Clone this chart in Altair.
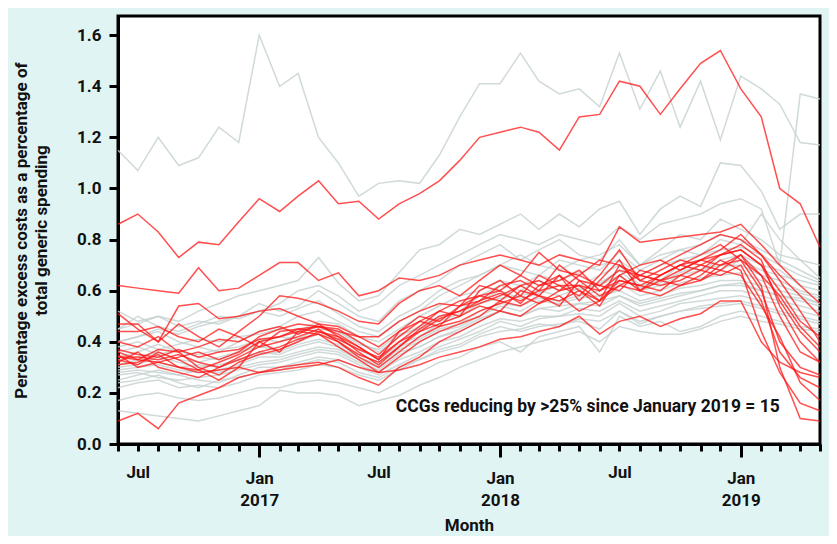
import altair as alt
import pandas as pd

MONTHS = [d.strftime("%Y-%m-01T00:00:00") for d in pd.date_range("2016-06-01", periods=36, freq="MS")]

GREY = {
    "G1": [1.15,1.07,1.20,1.09,1.12,1.24,1.18,1.60,1.40,1.45,1.20,1.10,0.97,1.02,1.03,1.02,1.13,1.28,1.41,1.41,1.53,1.42,1.37,1.39,1.32,1.53,1.31,1.46,1.24,1.42,1.19,1.44,1.39,1.33,1.18,1.17],
    "G2": [0.40,0.42,0.45,0.43,0.46,0.48,0.50,0.52,0.55,0.60,0.62,0.58,0.52,0.55,0.62,0.66,0.70,0.74,0.78,0.82,0.80,0.78,0.82,0.80,0.78,0.85,0.80,0.86,0.88,0.90,0.94,0.96,0.92,0.70,1.37,1.35],
    "G3": [0.45,0.47,0.50,0.48,0.52,0.55,0.58,0.60,0.62,0.64,0.73,0.63,0.56,0.58,0.67,0.76,0.78,0.84,0.82,0.86,0.90,0.84,0.90,0.85,0.92,0.95,0.82,0.92,0.97,0.93,1.10,1.09,0.99,0.84,0.90,0.90],
    "G4": [0.52,0.48,0.50,0.46,0.48,0.47,0.50,0.55,0.52,0.54,0.60,0.55,0.50,0.48,0.56,0.60,0.64,0.70,0.74,0.78,0.72,0.76,0.80,0.74,0.72,0.80,0.70,0.76,0.82,0.80,0.88,0.84,0.80,0.74,0.72,0.65],
    "G5": [0.40,0.42,0.44,0.40,0.38,0.36,0.40,0.44,0.46,0.50,0.52,0.48,0.44,0.42,0.48,0.52,0.58,0.62,0.66,0.70,0.68,0.66,0.72,0.70,0.68,0.75,0.68,0.72,0.76,0.74,0.80,0.78,0.90,0.80,0.72,0.70],
    "G6": [0.36,0.38,0.35,0.37,0.34,0.33,0.36,0.40,0.42,0.41,0.45,0.44,0.40,0.36,0.42,0.46,0.50,0.52,0.58,0.62,0.60,0.64,0.60,0.62,0.66,0.70,0.62,0.64,0.70,0.68,0.72,0.74,0.70,0.68,0.62,0.60],
    "G7": [0.33,0.34,0.36,0.33,0.32,0.34,0.36,0.38,0.37,0.40,0.43,0.41,0.37,0.33,0.39,0.42,0.47,0.50,0.55,0.57,0.58,0.60,0.58,0.61,0.62,0.66,0.60,0.62,0.66,0.68,0.70,0.70,0.66,0.64,0.60,0.58],
    "G8": [0.31,0.33,0.32,0.30,0.31,0.30,0.33,0.36,0.35,0.38,0.40,0.38,0.34,0.31,0.37,0.40,0.44,0.46,0.50,0.54,0.52,0.56,0.55,0.57,0.58,0.60,0.56,0.58,0.61,0.62,0.64,0.64,0.62,0.60,0.58,0.55],
    "G9": [0.29,0.30,0.31,0.29,0.28,0.29,0.31,0.34,0.34,0.36,0.38,0.37,0.33,0.30,0.36,0.38,0.42,0.44,0.48,0.52,0.50,0.53,0.52,0.55,0.56,0.58,0.54,0.56,0.58,0.60,0.62,0.62,0.60,0.58,0.56,0.54],
    "G10": [0.27,0.28,0.26,0.25,0.26,0.27,0.29,0.31,0.32,0.34,0.36,0.35,0.31,0.28,0.33,0.36,0.40,0.42,0.46,0.49,0.48,0.50,0.50,0.53,0.52,0.56,0.52,0.54,0.56,0.58,0.60,0.60,0.58,0.56,0.54,0.52],
    "G11": [0.25,0.27,0.29,0.27,0.25,0.24,0.27,0.30,0.30,0.32,0.34,0.33,0.30,0.27,0.31,0.35,0.38,0.41,0.44,0.48,0.46,0.49,0.50,0.51,0.50,0.55,0.50,0.52,0.55,0.56,0.57,0.58,0.56,0.55,0.52,0.50],
    "G12": [0.22,0.24,0.25,0.22,0.23,0.22,0.24,0.27,0.28,0.29,0.31,0.30,0.27,0.25,0.29,0.33,0.36,0.38,0.42,0.44,0.45,0.47,0.46,0.49,0.48,0.52,0.48,0.50,0.52,0.54,0.55,0.56,0.54,0.52,0.50,0.48],
    "G13": [0.17,0.19,0.20,0.18,0.17,0.18,0.20,0.22,0.22,0.24,0.25,0.24,0.22,0.20,0.24,0.28,0.32,0.34,0.38,0.40,0.36,0.42,0.44,0.46,0.36,0.50,0.46,0.48,0.44,0.46,0.50,0.52,0.50,0.48,0.46,0.45],
    "G14": [0.13,0.12,0.11,0.10,0.09,0.11,0.13,0.15,0.21,0.20,0.20,0.19,0.15,0.17,0.19,0.23,0.26,0.30,0.33,0.36,0.38,0.40,0.42,0.44,0.40,0.46,0.44,0.43,0.43,0.45,0.48,0.50,0.48,0.47,0.45,0.44],
    "G15": [0.38,0.40,0.37,0.39,0.41,0.40,0.42,0.43,0.45,0.44,0.48,0.47,0.42,0.40,0.45,0.50,0.54,0.58,0.60,0.64,0.62,0.66,0.64,0.67,0.70,0.72,0.66,0.70,0.72,0.74,0.76,0.77,0.74,0.70,0.66,0.63],
    "G16": [0.34,0.36,0.39,0.36,0.35,0.37,0.38,0.41,0.40,0.43,0.46,0.44,0.39,0.37,0.43,0.45,0.48,0.51,0.56,0.60,0.57,0.59,0.62,0.60,0.63,0.68,0.61,0.63,0.67,0.70,0.68,0.72,0.68,0.66,0.64,0.62],
    "G17": [0.30,0.31,0.34,0.32,0.30,0.31,0.33,0.35,0.36,0.39,0.41,0.39,0.35,0.32,0.38,0.41,0.45,0.47,0.52,0.55,0.54,0.57,0.56,0.58,0.60,0.63,0.58,0.60,0.63,0.65,0.66,0.67,0.64,0.62,0.59,0.57],
    "G18": [0.28,0.29,0.28,0.27,0.29,0.28,0.30,0.32,0.33,0.35,0.37,0.36,0.32,0.29,0.35,0.38,0.42,0.45,0.49,0.52,0.50,0.53,0.54,0.55,0.54,0.58,0.55,0.57,0.59,0.60,0.62,0.63,0.60,0.58,0.57,0.55],
    "G19": [0.45,0.50,0.46,0.44,0.47,0.50,0.49,0.52,0.50,0.53,0.56,0.51,0.46,0.44,0.50,0.54,0.60,0.64,0.66,0.70,0.74,0.70,0.68,0.72,0.74,0.78,0.70,0.74,0.76,0.78,0.82,0.80,0.76,0.72,0.68,0.64],
    "G20": [0.24,0.25,0.27,0.24,0.22,0.25,0.26,0.28,0.29,0.31,0.33,0.32,0.28,0.26,0.30,0.33,0.37,0.39,0.43,0.46,0.44,0.46,0.47,0.48,0.45,0.52,0.47,0.50,0.52,0.53,0.54,0.55,0.53,0.51,0.49,0.47],
}

RED = {
    "R1": [0.86,0.90,0.83,0.73,0.79,0.78,0.87,0.96,0.91,0.97,1.03,0.94,0.95,0.88,0.94,0.98,1.03,1.11,1.20,1.22,1.24,1.22,1.15,1.28,1.29,1.42,1.40,1.29,1.39,1.49,1.54,1.39,1.28,1.00,0.94,0.77],
    "R2": [0.62,0.61,0.60,0.59,0.69,0.60,0.61,0.66,0.71,0.71,0.64,0.67,0.58,0.60,0.65,0.64,0.66,0.70,0.72,0.74,0.72,0.70,0.74,0.72,0.70,0.85,0.79,0.80,0.81,0.82,0.83,0.86,0.78,0.70,0.62,0.55],
    "R3": [0.51,0.45,0.40,0.47,0.42,0.38,0.44,0.50,0.58,0.57,0.55,0.52,0.48,0.47,0.55,0.60,0.62,0.58,0.64,0.70,0.66,0.75,0.68,0.66,0.72,0.70,0.66,0.70,0.74,0.78,0.82,0.80,0.74,0.66,0.58,0.50],
    "R4": [0.47,0.47,0.40,0.54,0.55,0.49,0.50,0.52,0.53,0.50,0.47,0.42,0.38,0.33,0.44,0.48,0.52,0.56,0.58,0.60,0.55,0.62,0.66,0.56,0.64,0.72,0.60,0.66,0.70,0.68,0.74,0.76,0.70,0.60,0.48,0.42],
    "R5": [0.44,0.44,0.46,0.42,0.40,0.45,0.42,0.38,0.44,0.45,0.46,0.44,0.42,0.42,0.48,0.52,0.55,0.54,0.56,0.62,0.64,0.60,0.70,0.64,0.62,0.68,0.66,0.64,0.68,0.72,0.70,0.74,0.66,0.50,0.36,0.32],
    "R6": [0.36,0.33,0.37,0.36,0.30,0.27,0.32,0.35,0.37,0.40,0.44,0.42,0.36,0.31,0.38,0.45,0.50,0.52,0.55,0.58,0.62,0.58,0.66,0.60,0.56,0.64,0.62,0.60,0.66,0.64,0.70,0.72,0.60,0.40,0.30,0.27],
    "R7": [0.34,0.34,0.33,0.35,0.32,0.30,0.34,0.38,0.40,0.42,0.45,0.40,0.34,0.30,0.36,0.42,0.46,0.48,0.52,0.55,0.58,0.55,0.60,0.62,0.56,0.70,0.64,0.62,0.64,0.68,0.66,0.70,0.56,0.36,0.26,0.22],
    "R8": [0.32,0.36,0.30,0.28,0.26,0.30,0.33,0.36,0.38,0.41,0.43,0.38,0.33,0.28,0.34,0.40,0.44,0.47,0.50,0.56,0.54,0.58,0.56,0.60,0.54,0.66,0.60,0.64,0.62,0.66,0.72,0.68,0.44,0.28,0.16,0.13],
    "R9": [0.31,0.32,0.35,0.30,0.29,0.32,0.35,0.40,0.42,0.44,0.43,0.40,0.35,0.32,0.38,0.44,0.47,0.50,0.54,0.52,0.60,0.58,0.54,0.64,0.58,0.62,0.66,0.64,0.66,0.70,0.68,0.74,0.62,0.30,0.10,0.09],
    "R10": [0.09,0.12,0.06,0.16,0.19,0.22,0.26,0.28,0.30,0.31,0.32,0.30,0.26,0.23,0.30,0.34,0.40,0.44,0.48,0.52,0.50,0.55,0.58,0.52,0.56,0.62,0.60,0.58,0.62,0.64,0.68,0.66,0.54,0.42,0.24,0.17],
    "R11": [0.34,0.33,0.32,0.30,0.28,0.29,0.30,0.28,0.29,0.30,0.31,0.33,0.30,0.28,0.29,0.31,0.34,0.36,0.38,0.41,0.42,0.44,0.46,0.50,0.43,0.48,0.50,0.46,0.49,0.51,0.56,0.56,0.40,0.32,0.28,0.26],
    "R12": [0.33,0.31,0.36,0.33,0.29,0.25,0.30,0.40,0.36,0.44,0.46,0.45,0.40,0.35,0.42,0.48,0.46,0.54,0.58,0.56,0.62,0.64,0.60,0.66,0.62,0.60,0.68,0.66,0.70,0.74,0.78,0.72,0.66,0.58,0.46,0.38],
    "R13": [0.35,0.30,0.32,0.34,0.36,0.33,0.36,0.42,0.45,0.47,0.46,0.43,0.38,0.33,0.40,0.46,0.52,0.50,0.60,0.64,0.58,0.66,0.62,0.58,0.66,0.76,0.64,0.68,0.72,0.70,0.74,0.78,0.72,0.54,0.40,0.32],
    "R14": [0.40,0.38,0.42,0.36,0.38,0.41,0.40,0.44,0.46,0.43,0.47,0.46,0.42,0.38,0.44,0.50,0.48,0.54,0.62,0.60,0.66,0.62,0.64,0.68,0.60,0.66,0.70,0.72,0.68,0.72,0.76,0.82,0.74,0.64,0.52,0.40],
    "R15": [0.37,0.35,0.34,0.37,0.34,0.36,0.37,0.41,0.42,0.45,0.44,0.41,0.37,0.34,0.40,0.44,0.49,0.52,0.56,0.59,0.56,0.60,0.62,0.62,0.60,0.64,0.62,0.66,0.70,0.72,0.74,0.76,0.70,0.56,0.44,0.36],
}

Y_TICKS = [0.0, 0.2, 0.4, 0.6, 0.8, 1.0, 1.2, 1.4, 1.6]
ANNOTATION = "CCGs reducing by >25% since January 2019 = 15"

FONT = "Roboto"

def long(d, kind):
    rows = []
    for name, vals in d.items():
        for m, v in zip(MONTHS, vals):
            rows.append({"ccg": name, "month": m, "value": v, "kind": kind})
    return rows

grey_df = pd.DataFrame(long(GREY, "grey"))
red_df = pd.DataFrame(long(RED, "red"))

x_scale = alt.Scale(domain=[alt.DateTime(year=2016, month=6, date=1),
                            alt.DateTime(year=2019, month=5, date=1)], nice=False)
y_scale = alt.Scale(domain=[0, 1.675], nice=False, zero=True)

x_axis = alt.Axis(
    title="Month",
    tickCount={"interval": "month", "step": 1},
    labelExpr="month(datum.value) == 0 ? [timeFormat(datum.value, '%b'), timeFormat(datum.value, '%Y')] : (month(datum.value) == 6 ? 'Jul' : '')",
    labelOverlap=False,
    labelFlush=False,
    labelLineHeight=22,
    labelBaseline="top",
    tickSize={"condition": {"test": "month(datum.value) == 0", "value": 13}, "value": 7},
    labelPadding=13,
    titlePadding=9,
)
y_axis = alt.Axis(
    title=["Percentage excess costs as a percentage of", "total generic spending"],
    values=Y_TICKS,
    format=".1f",
    tickSize=9,
    labelPadding=8,
    titlePadding=26,
    titleLineHeight=20,
)

grey = alt.Chart(grey_df).mark_line(strokeWidth=1.5, color="#c4d1cf", opacity=0.8).encode(
    x=alt.X("month:T", scale=x_scale, axis=x_axis),
    y=alt.Y("value:Q", scale=y_scale, axis=y_axis),
    detail="ccg:N",
)
red = alt.Chart(red_df).mark_line(strokeWidth=1.5, color="#ff1414", opacity=0.75).encode(
    x=alt.X("month:T", scale=x_scale),
    y=alt.Y("value:Q", scale=y_scale),
    detail="ccg:N",
)
note_df = pd.DataFrame({"month": ["2019-03-01T00:00:00"], "value": [0.145], "label": [ANNOTATION]})
note = alt.Chart(note_df).mark_text(align="right", baseline="middle", font=FONT, fontSize=17.5,
                                    fontWeight="bold", color="#111111").encode(
    x=alt.X("month:T", scale=x_scale),
    y=alt.Y("value:Q", scale=y_scale),
    text="label:N",
)

chart = alt.layer(grey, red, note).properties(
    width=702, height=428,
    autosize=alt.AutoSizeParams(type="none"),
    padding={"left": 110, "top": 8, "right": 9, "bottom": 92},
    background="#e0f5f3",
).configure_view(
    stroke="black", strokeWidth=3, fill="white"
).configure_axis(
    grid=False,
    domainColor="black", domainWidth=3,
    tickColor="black", tickWidth=3,
    labelFont=FONT, labelFontSize=17, labelFontWeight="bold", labelColor="#111111",
    titleFont=FONT, titleFontSize=17, titleFontWeight="bold", titleColor="#111111",
)

chart.save("out.html", embed_options={"renderer": "svg", "actions": False})
